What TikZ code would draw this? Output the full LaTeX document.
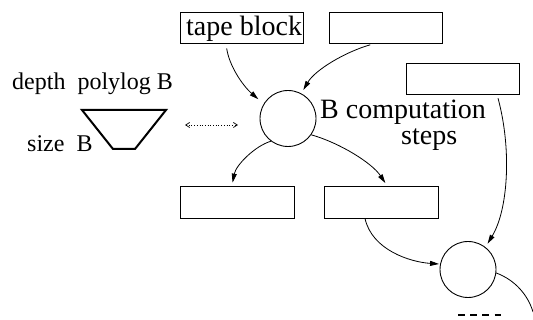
\documentclass[tikz,border=0pt]{standalone}
\usepackage{fontspec}
\setmainfont{Liberation Serif}
\usetikzlibrary{arrows.meta}
\begin{document}
\begin{tikzpicture}[x=1pt,y=-1pt,
  box/.style={draw,line width=0.9pt,minimum width=113pt,minimum height=31pt,inner sep=0pt},
  state/.style={draw,circle,line width=0.9pt,minimum size=56pt,inner sep=0pt},
  lbl/.style={inner sep=0pt,anchor=base west,font=\fontsize{28}{30}\selectfont},
  sidelbl/.style={inner sep=0pt,anchor=base west,font=\fontsize{24}{26}\selectfont},
  conn/.style={line width=0.8pt,-{Triangle[length=9pt,width=5pt]}},
  plain/.style={line width=0.8pt}
]
\useasboundingbox (0,0) rectangle (533,320);
% boxes
\node[box,minimum width=123pt] (tb) at (241.5,27.5) {};
\node[box] (b2) at (385.5,27.5) {};
\node[box] (b3) at (462.5,78.5) {};
\node[box,minimum width=114pt,minimum height=32pt] (bl) at (237,202) {};
\node[box,minimum width=114pt,minimum height=32pt] (bm) at (381,202) {};
% circles
\node[state] (c1) at (288,118.5) {};
\node[state] (c2) at (468,269.5) {};
% texts
\node[lbl] (tbt) at (186,36) {tape block};
\node[lbl] (bc) at (320,119) {B computation};
\node[lbl] (st) at (401,145) {steps};
\node[sidelbl] (dp) at (12,90) {depth\ \ polylog B};
\node[sidelbl] (sz) at (27,152) {size\ \ B};
% trapezoid
\draw[line width=2pt] (82,110) -- (166,110) -- (135,149) -- (113,149) -- cycle;
% dotted double arrow
\coordinate (dl) at (185,125);
\coordinate (dr) at (238,125);
\draw[dotted,line width=0.7pt,{Straight Barb[length=4pt,width=5pt]}-{Straight Barb[length=4pt,width=5pt]}] (dl) -- (dr);
% connectors
\draw[conn,shorten <=5pt,shorten >=7pt] ([xshift=-15.5pt]tb.south) .. controls (229,65) and (242,85) .. (c1.149);
\draw[conn,shorten <=5pt,shorten >=4pt] ([xshift=-10.5pt]b2.south) .. controls (345,52) and (315,70) .. (c1.62);
\draw[conn,shorten >=3pt] (c1.233) .. controls (255,146) and (236,165) .. ([xshift=-5pt]bl.north);
\draw[conn,shorten >=3pt] (c1.-35) .. controls (340,143) and (372,163) .. ([xshift=6pt]bm.north);
\draw[conn,shorten >=1pt] ([xshift=-16pt]bm.south) .. controls (372,250) and (410,262) .. (c2.169);
\draw[conn,shorten <=4pt,shorten >=4pt] ([xshift=34.5pt]b3.south) .. controls (512,150) and (508,210) .. (c2.52);
\coordinate (tail) at (533,312);
\draw[plain] (c2.-7) .. controls (515,280) and (528,295) .. (tail);
% dashes
\coordinate (d1) at (458,315);
\coordinate (d2) at (501,315);
\draw[line width=1.2pt,dash pattern=on 6.5pt off 5.7pt] (d1) -- (d2);
\end{tikzpicture}
\end{document}
